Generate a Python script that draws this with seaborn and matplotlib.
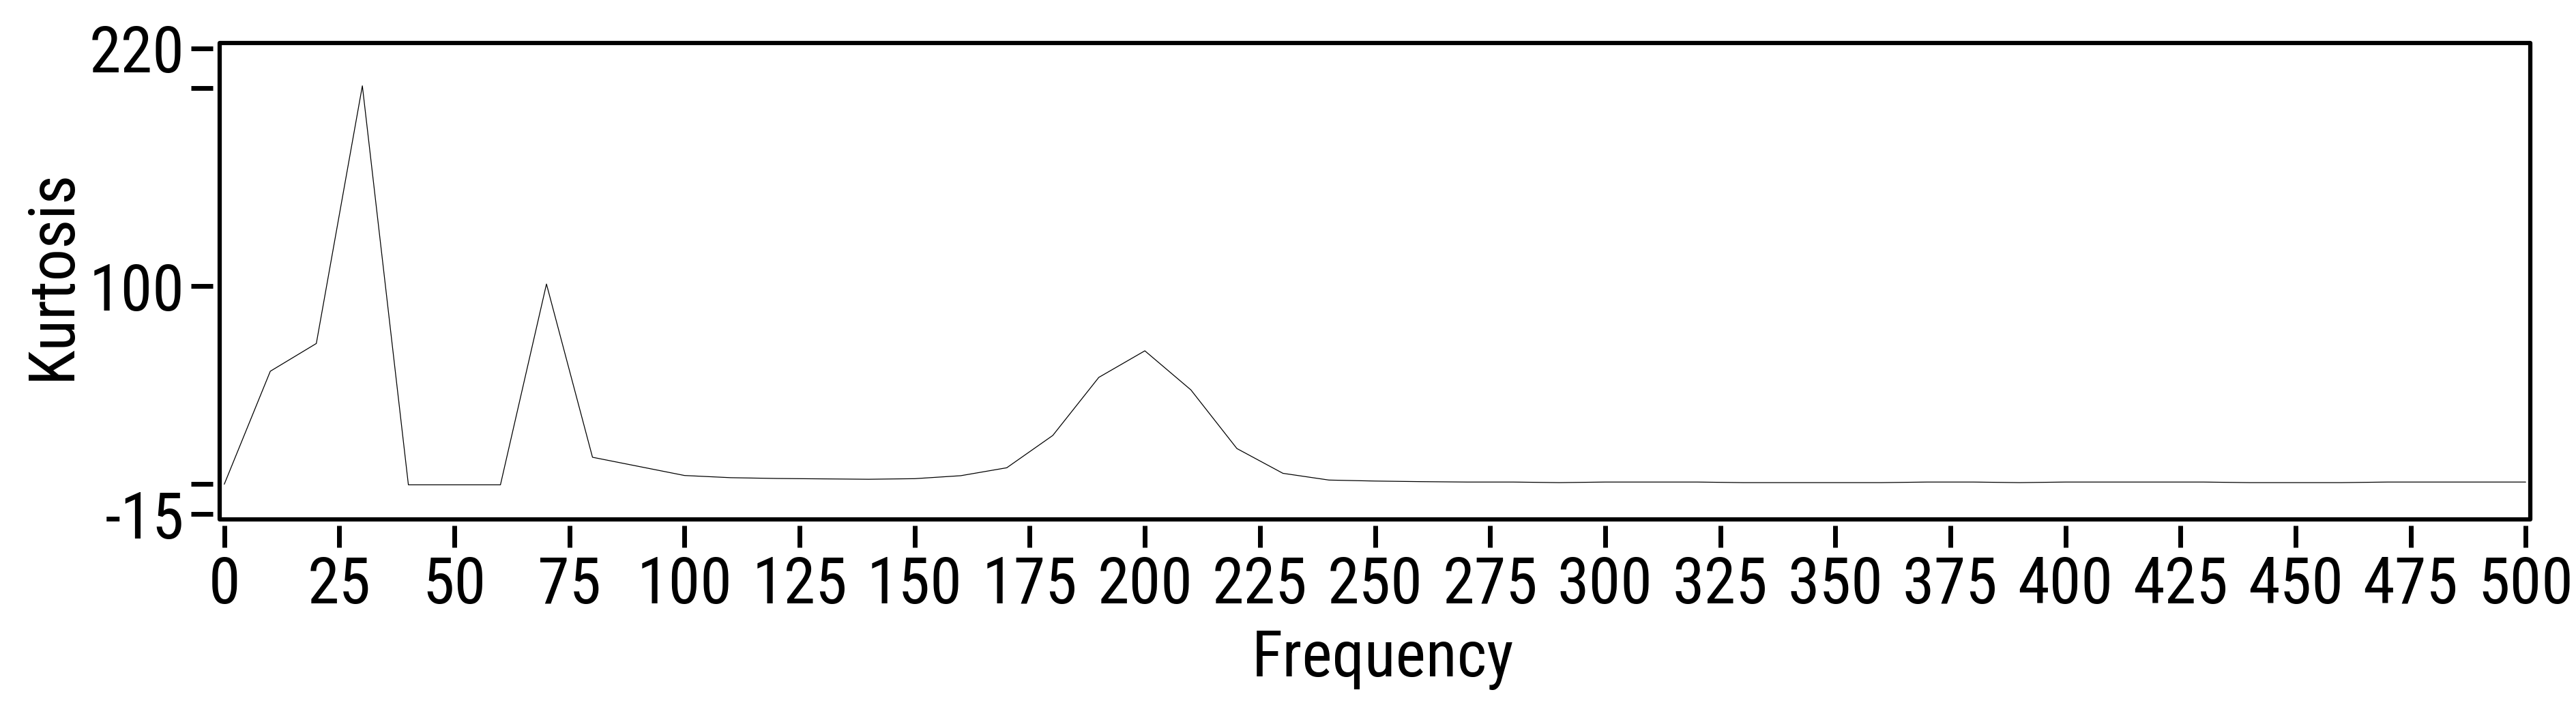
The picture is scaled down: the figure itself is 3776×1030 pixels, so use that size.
import matplotlib
matplotlib.use("Agg")
import matplotlib.pyplot as plt
import matplotlib.font_manager as fm
from matplotlib.patches import Rectangle
import seaborn as sns
import pandas as pd

# kurtosis per frequency
frequency = list(range(0, 501, 10))
kurtosis = [0.0, 57.0, 71.0, 201.0, -0.3, -0.3, -0.3, 101.0, 13.6, 9.0,
            4.4, 3.3, 2.9, 2.7, 2.5, 2.8, 4.3, 8.3, 24.6, 53.9,
            67.3, 47.6, 18.0, 5.5, 2.1, 1.6, 1.3, 1.1, 1.1, 0.8,
            1.1, 1.1, 1.1, 0.8, 0.8, 0.8, 0.8, 1.1, 1.1, 0.8,
            1.1, 1.1, 1.1, 1.1, 0.8, 0.8, 0.8, 1.1, 1.1, 1.1, 1.1]

x_ticks = list(range(0, 501, 25))
y_ticks = [220, 200, 100, 0, -15]
y_tick_labels = ['220', '', '100', '', '-15']


def pick_narrow_font():
    # the reference uses a narrow helvetica-like face; take the closest installed one
    prefs = ['Liberation Sans Narrow', 'Nimbus Sans Narrow', 'Arial Narrow',
             'Roboto Condensed', 'Noto Sans Condensed', 'Open Sans Condensed',
             'Noto Sans Display Condensed', 'DejaVu Sans Condensed']
    names = {f.name for f in fm.fontManager.ttflist}
    for p in prefs:
        if p in names:
            return p, 'normal'
    narrow = [f for f in fm.fontManager.ttflist
              if f.stretch in ('condensed', 'semi-condensed', 'extra-condensed', 'ultra-condensed')
              or (isinstance(f.stretch, int) and f.stretch < 500)]
    for p in ['Roboto', 'Noto Sans', 'Open Sans', 'Liberation Sans', 'DejaVu Sans']:
        if any(f.name == p for f in narrow):
            return p, 'condensed'
    return 'Liberation Sans', 'normal'


sns.set_style("white")
family, stretch = pick_narrow_font()
plt.rcParams['font.family'] = [family, 'DejaVu Sans']
plt.rcParams['font.stretch'] = stretch

W, H = 3776, 1030
fig = plt.figure(figsize=(W / 100, H / 100), dpi=100)
left, right, top, bottom = 322, 3709, 63, 761
ax = fig.add_axes([left / W, 1 - bottom / H, (right - left) / W, (bottom - top) / H])

df = pd.DataFrame({'Frequency': frequency, 'Kurtosis': kurtosis})
sns.lineplot(data=df, x='Frequency', y='Kurtosis', color='black', linewidth=0.9, ax=ax)

ax.set_xlim(-1, 501)
ax.set_ylim(-17.75, 222.6)

# box drawn on its own, ticks sit detached outside it
for s in ax.spines.values():
    s.set_visible(False)
ax.spines['left'].set_position(('outward', 7.2))
ax.spines['bottom'].set_position(('outward', 6.5))
ax.add_patch(Rectangle((0, 0), 1, 1, transform=ax.transAxes, fill=False,
                       edgecolor='black', linewidth=4.5, joinstyle='round',
                       clip_on=False, zorder=5))

ax.set_xticks(x_ticks)
ax.set_yticks(y_ticks)
ax.set_yticklabels(y_tick_labels)
ax.tick_params(axis='both', which='major', direction='out', length=23, width=5,
               color='black', labelsize=68, labelcolor='black',
               left=True, bottom=True)
ax.tick_params(axis='x', pad=8)
ax.tick_params(axis='y', pad=7)

ax.set_xlabel('Frequency', fontsize=68, color='black')
ax.set_ylabel('Kurtosis', fontsize=68, color='black')
ax.xaxis.set_label_coords(0.5035, (bottom - 921) / (bottom - top))
ax.yaxis.set_label_coords((122 - left) / (right - left), 0.513)

fig.savefig('out.png', dpi=100)
